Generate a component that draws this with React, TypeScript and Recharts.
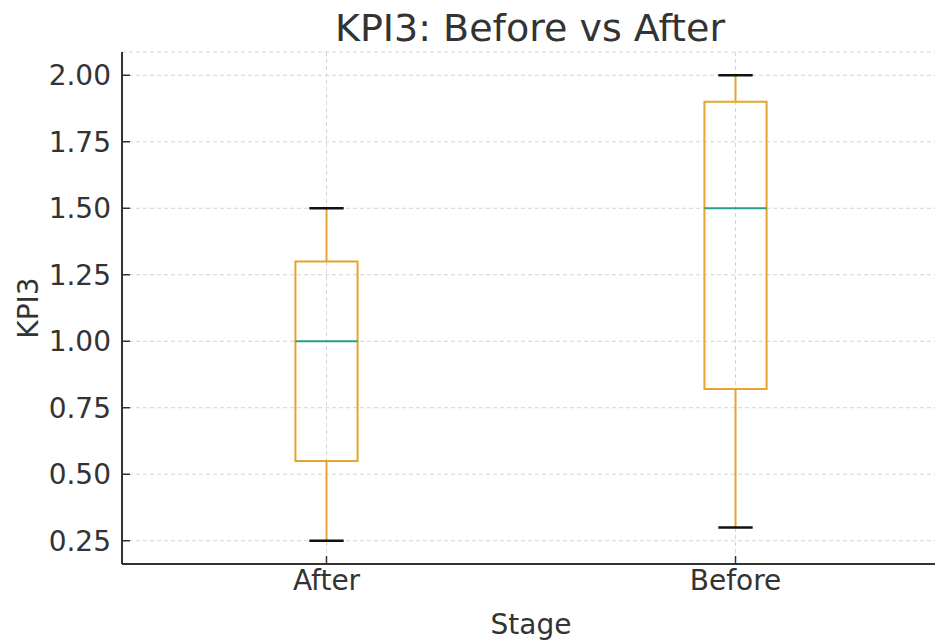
import {
  ComposedChart,
  XAxis,
  YAxis,
  CartesianGrid,
  ReferenceArea,
  ReferenceLine,
  Label,
} from "recharts";

const stages = ["After", "Before"];
const whiskerLow = [0.25, 0.3];
const q1 = [0.55, 0.82];
const medians = [1.0, 1.5];
const q3 = [1.3, 1.9];
const whiskerHigh = [1.5, 2.0];
const yTicks = [0.25, 0.5, 0.75, 1.0, 1.25, 1.5, 1.75, 2.0];

const BOX_HALF = 0.076;
const CAP_HALF = 0.042;
const BOX_COLOR = "#E5A52B";
const MEDIAN_COLOR = "#2E9C8C";
const AXIS_COLOR = "#333333";
const FONT = "'DejaVu Sans', sans-serif";

const data = stages.map((name, i) => ({ pos: i + 1, name }));

export default function App() {
  return (
    <div
      style={{
        position: "fixed",
        left: 0,
        top: 0,
        width: 935,
        height: 644,
        overflow: "hidden",
        background: "#fff",
        fontFamily: FONT,
      }}
    >
      <div
        style={{
          position: "absolute",
          left: 0,
          width: 1060,
          top: 5,
          textAlign: "center",
          fontSize: 38,
          color: "#333",
          lineHeight: "46px",
        }}
      >
        KPI3: Before vs After
      </div>
      <ComposedChart
        width={960}
        height={644}
        data={data}
        margin={{ top: 52, right: 20, bottom: 0, left: 0 }}
      >
        <CartesianGrid stroke="#d4d4d4" strokeDasharray="4 3" />
        <XAxis
          dataKey="pos"
          type="number"
          domain={[0.5, 2.5]}
          ticks={[1, 2]}
          allowDataOverflow
          height={80}
          tickFormatter={(v: number) => stages[v - 1]}
          tick={{ fill: "#333", fontSize: 28, fontFamily: FONT }}
          tickSize={-8}
          tickMargin={14}
          axisLine={{ stroke: AXIS_COLOR, strokeWidth: 2 }}
          tickLine={{ stroke: AXIS_COLOR, strokeWidth: 1.5 }}
        >
          <Label
            value="Stage"
            position="insideBottom"
            offset={10}
            style={{ fill: "#333", fontSize: 28, fontFamily: FONT }}
          />
        </XAxis>
        <YAxis
          type="number"
          domain={[0.1625, 2.0875]}
          ticks={yTicks}
          allowDataOverflow
          width={122}
          tickFormatter={(v: number) => v.toFixed(2)}
          tick={{ fill: "#333", fontSize: 28, fontFamily: FONT }}
          tickSize={-8}
          tickMargin={19}
          axisLine={{ stroke: AXIS_COLOR, strokeWidth: 2 }}
          tickLine={{ stroke: AXIS_COLOR, strokeWidth: 1.5 }}
        >
          <Label
            value="KPI3"
            angle={-90}
            position="insideLeft"
            offset={28}
            style={{ fill: "#333", fontSize: 28, fontFamily: FONT, textAnchor: "middle" }}
          />
        </YAxis>

        {stages.map((s, i) => {
          const x = i + 1;
          return [
            <ReferenceLine
              key={s + "-wl"}
              segment={[
                { x, y: whiskerLow[i] },
                { x, y: q1[i] },
              ]}
              stroke={BOX_COLOR}
              strokeWidth={2}
            />,
            <ReferenceLine
              key={s + "-wh"}
              segment={[
                { x, y: q3[i] },
                { x, y: whiskerHigh[i] },
              ]}
              stroke={BOX_COLOR}
              strokeWidth={2}
            />,
            <ReferenceArea
              key={s + "-box"}
              x1={x - BOX_HALF}
              x2={x + BOX_HALF}
              y1={q1[i]}
              y2={q3[i]}
              fill="none"
              fillOpacity={0}
              stroke={BOX_COLOR}
              strokeWidth={2}
            />,
            <ReferenceLine
              key={s + "-med"}
              segment={[
                { x: x - BOX_HALF, y: medians[i] },
                { x: x + BOX_HALF, y: medians[i] },
              ]}
              stroke={MEDIAN_COLOR}
              strokeWidth={2}
            />,
            <ReferenceLine
              key={s + "-capl"}
              segment={[
                { x: x - CAP_HALF, y: whiskerLow[i] },
                { x: x + CAP_HALF, y: whiskerLow[i] },
              ]}
              stroke="#111"
              strokeWidth={2.5}
            />,
            <ReferenceLine
              key={s + "-caph"}
              segment={[
                { x: x - CAP_HALF, y: whiskerHigh[i] },
                { x: x + CAP_HALF, y: whiskerHigh[i] },
              ]}
              stroke="#111"
              strokeWidth={2.5}
            />,
          ];
        })}
      </ComposedChart>
    </div>
  );
}
